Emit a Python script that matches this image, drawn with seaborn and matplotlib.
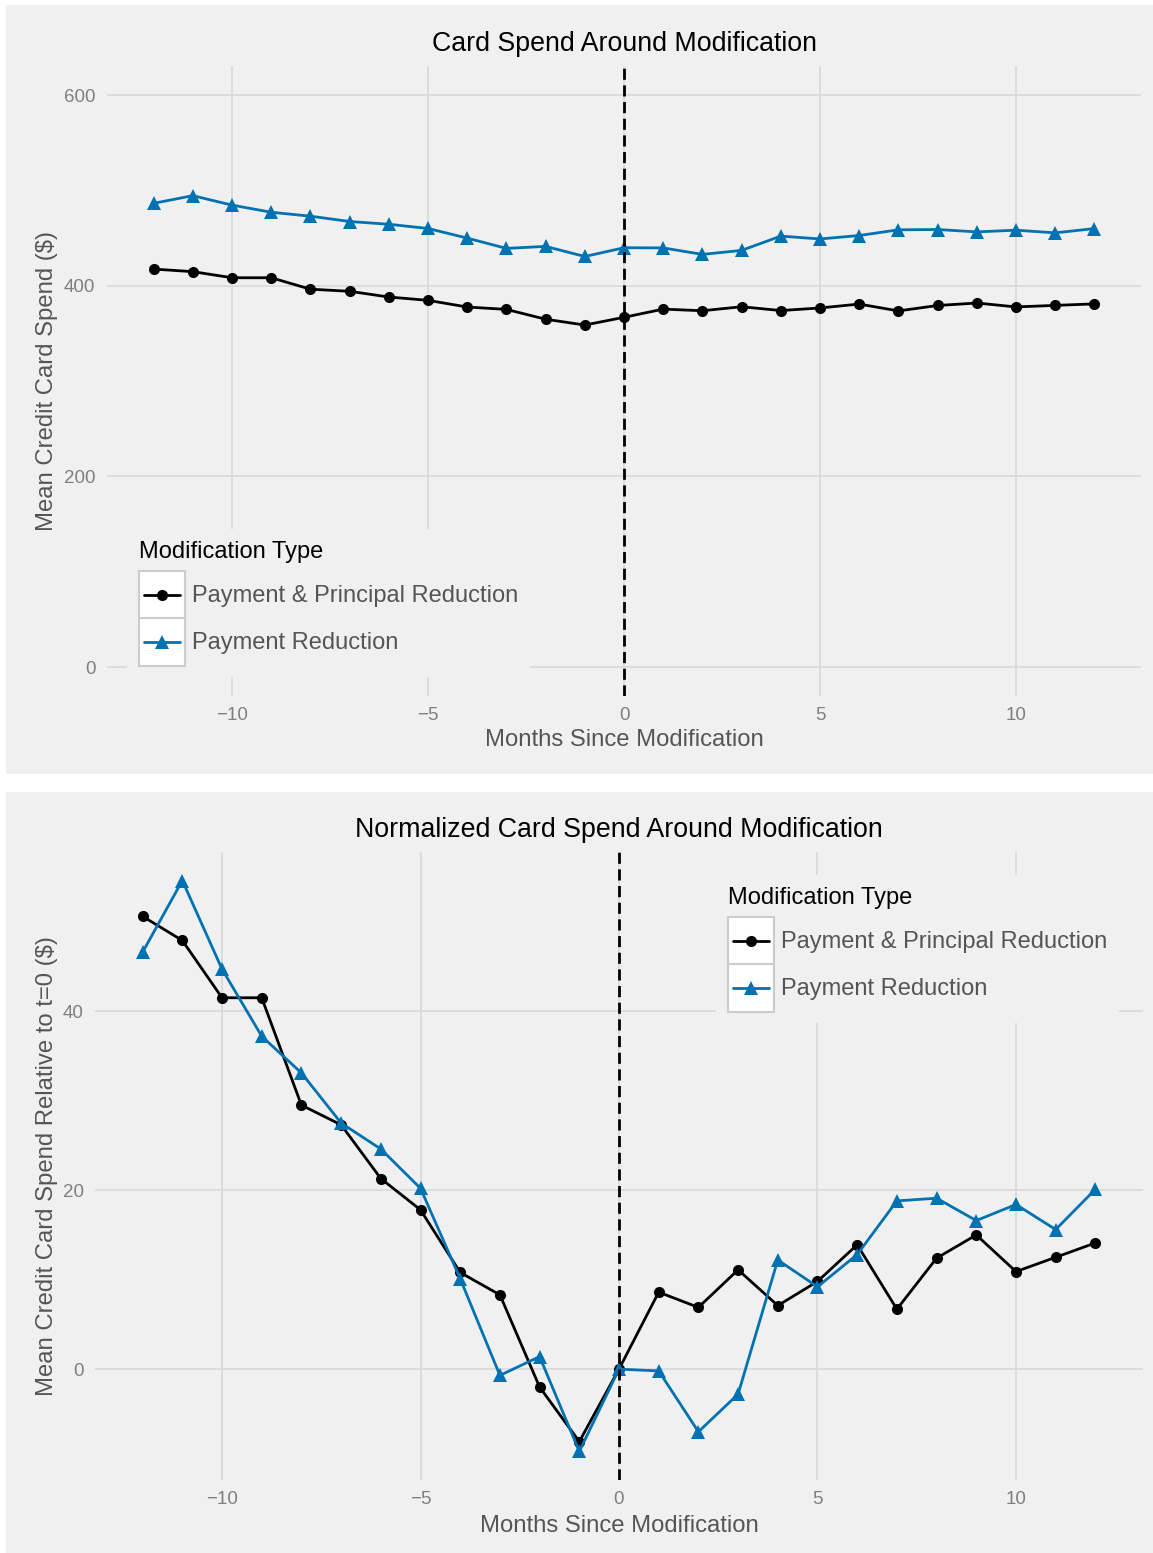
import pandas as pd
import matplotlib
matplotlib.use("Agg")
import matplotlib.pyplot as plt
import seaborn as sns
from matplotlib.lines import Line2D
from matplotlib.patches import Rectangle
from matplotlib.legend_handler import HandlerLine2D

# data
months = list(range(-12, 13))
mod_types = ["Payment & Principal Reduction", "Payment Reduction"]

spend_pay_principal = [417.4, 414.7, 408.3, 408.3, 396.3, 394.1, 388.1, 384.6, 377.6, 375.1,
                       364.8, 358.7, 366.8, 375.4, 373.7, 377.9, 373.9, 376.6, 380.7, 373.5,
                       379.2, 381.8, 377.7, 379.3, 380.9]
spend_pay_only = [486.4, 494.4, 484.5, 477.0, 472.9, 467.3, 464.4, 460.0, 449.9, 439.1,
                  441.2, 430.6, 439.8, 439.6, 432.8, 437.0, 452.0, 449.0, 452.6, 458.6,
                  458.9, 456.4, 458.2, 455.4, 459.9]

norm_pay_principal = [50.6, 47.9, 41.5, 41.5, 29.5, 27.3, 21.3, 17.8, 10.8, 8.3,
                      -2.0, -8.1, 0.0, 8.6, 6.9, 11.1, 7.1, 9.8, 13.9, 6.7,
                      12.4, 15.0, 10.9, 12.5, 14.1]
norm_pay_only = [46.6, 54.6, 44.7, 37.2, 33.1, 27.5, 24.6, 20.2, 10.1, -0.7,
                 1.4, -9.2, 0.0, -0.2, -7.0, -2.8, 12.2, 9.2, 12.8, 18.8,
                 19.1, 16.6, 18.4, 15.6, 20.1]

df = pd.DataFrame({
    "month": months * 2,
    "type": [mod_types[0]] * len(months) + [mod_types[1]] * len(months),
    "spend": spend_pay_principal + spend_pay_only,
    "norm": norm_pay_principal + norm_pay_only,
})

colors = {mod_types[0]: "#000000", mod_types[1]: "#0072B2"}
markers = {mod_types[0]: "o", mod_types[1]: "^"}
msizes = {mod_types[0]: 8, mod_types[1]: 10.5}

BG = "#f0f0f0"
GRID = "#dadada"
W, H = 1153, 1553

sns.set_style("white")
plt.rcParams["font.family"] = ["Liberation Sans", "DejaVu Sans"]


class BoxedHandler(HandlerLine2D):
    # ggplot-like legend key: white square with grey border behind the line
    def create_artists(self, legend, orig_handle, xdescent, ydescent, width, height, fontsize, trans):
        arts = super().create_artists(legend, orig_handle, xdescent, ydescent, width, height, fontsize, trans)
        box = Rectangle((-xdescent, -ydescent), width, height, facecolor="white",
                        edgecolor="#cccccc", lw=1.5, transform=trans)
        ymid = -ydescent + height / 2
        for a in arts:
            a.set_xdata([-xdescent + 3.5, -xdescent + width / 2, -xdescent + width - 3.5])
            a.set_ydata([ymid, ymid, ymid])
            a.set_markevery([1])
        return [box] + arts


fig = plt.figure(figsize=(W / 100, H / 100), dpi=100)
fig.patch.set_facecolor("white")
for y0, y1 in [(5, 774), (792, 1553)]:
    fig.add_artist(Rectangle((6 / W, 1 - y1 / H), (W - 6) / W, (y1 - y0) / H,
                             transform=fig.transFigure, facecolor=BG, edgecolor="none", zorder=-5))


def add_axes_px(x0, y0, x1, y1):
    return fig.add_axes([x0 / W, 1 - y1 / H, (x1 - x0) / W, (y1 - y0) / H])


def draw_panel(ax, ycol, title, ylabel, yticks, legend_xy, ylabel_x, title_pad, xlabel_pad):
    ax.set_facecolor(BG)
    for t in mod_types:
        sub = df[df["type"] == t]
        sns.lineplot(data=sub, x="month", y=ycol, color=colors[t], marker=markers[t],
                     markersize=msizes[t], markeredgewidth=0, linewidth=2.0,
                     label=t, ax=ax, legend=False)
    ax.axvline(0, color="black", lw=2.0, ls=(0, (4, 2)), zorder=3)
    ax.set_xticks([-10, -5, 0, 5, 10])
    ax.set_yticks(yticks)
    ax.grid(True, color=GRID, lw=1.3)
    ax.set_axisbelow(True)
    for s in ax.spines.values():
        s.set_visible(False)
    ax.tick_params(length=0, pad=8, labelsize=13.5, labelcolor="#7f7f7f")
    ax.set_title(title, fontsize=19.3, color="black", pad=title_pad)
    ax.set_xlabel("Months Since Modification", fontsize=17.2, color="#555555", labelpad=xlabel_pad)
    ax.set_ylabel(ylabel, fontsize=17.2, color="#555555")
    ax.yaxis.set_label_coords(ylabel_x, 0.5)

    handles = ax.lines[:2]
    leg = ax.legend(handles, mod_types, title="Modification Type", loc="upper left",
                    bbox_to_anchor=(legend_xy[0] / W, 1 - legend_xy[1] / H),
                    bbox_transform=fig.transFigure, frameon=True, fancybox=False,
                    facecolor=BG, edgecolor="none", framealpha=1, fontsize=17,
                    title_fontsize=17, alignment="left", handlelength=1.95,
                    handleheight=2.7, labelspacing=0, handletextpad=0.3,
                    borderpad=0.5, borderaxespad=0, handler_map={Line2D: BoxedHandler()})
    leg._legend_box.sep = 6
    for txt in leg.get_texts():
        txt.set_color("#555555")
    leg.get_title().set_color("black")
    return leg


ax1 = add_axes_px(106.6, 66.4, 1141.4, 695.6)
draw_panel(ax1, "spend", "Card Spend Around Modification", "Mean Credit Card Spend ($)",
           [0, 200, 400, 600], (127.5, 529), (58 - 106.6) / 1034.8, 11, 3.5)
ax1.set_ylim(-30, 630)

ax2 = add_axes_px(95, 852, 1143, 1480)
draw_panel(ax2, "norm", "Normalized Card Spend Around Modification",
           "Mean Credit Card Spend Relative to t=0 ($)", [0, 20, 40], (716, 875),
           (58 - 95) / 1048, 10.5, 5)

fig.savefig("out.png", dpi=100)
